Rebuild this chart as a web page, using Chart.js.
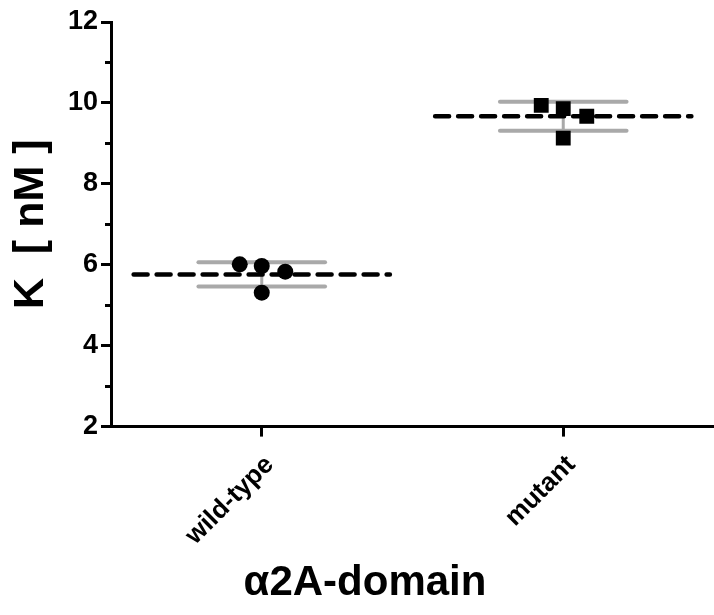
<!DOCTYPE html>
<html>
<head>
<meta charset="utf-8">
<script src="https://cdn.jsdelivr.net/npm/chart.js@4.4.1/dist/chart.umd.min.js"></script>
<style>
  html, body { margin: 0; padding: 0; background: #fff; }
</style>
</head>
<body>
<canvas id="grafico" width="714" height="615"></canvas>
<script>
// dados
const categories = ['wild-type', 'mutant'];
const wildType = [6.01, 5.97, 5.83, 5.31];
const mutant = [9.94, 9.86, 9.67, 9.13];
const means = [5.76, 9.67];
const sds = [0.30, 0.36];
const yMinorTicks = [3, 5, 7, 9, 11];
// espalhamento horizontal dos pontos dentro de cada coluna
const jitter = [-0.073, 0, 0.078, 0];

const fonte = "'Liberation Sans', Arial, sans-serif";
Chart.defaults.color = '#000';
Chart.defaults.font.family = fonte;

function pontos(valores, i) {
    return valores.map(function (v, k) { return { x: i + jitter[k], y: v }; });
}

var datasets = [
    {
        data: pontos(wildType, 0),
        pointStyle: 'circle', pointRadius: 8,
        backgroundColor: '#000', borderColor: '#000', borderWidth: 0
    },
    {
        data: pontos(mutant, 1),
        pointStyle: 'rect', pointRadius: 10.5,
        backgroundColor: '#000', borderColor: '#000', borderWidth: 0
    }
];

// linhas da média (tracejadas)
means.forEach(function (m, i) {
    datasets.push({
        data: [{ x: i - 0.425, y: m }, { x: i + 0.425, y: m }],
        showLine: true, pointRadius: 0,
        borderColor: '#000', borderWidth: 4.5,
        borderDash: [14, 9], borderCapStyle: 'round'
    });
});

// desvio padrão (cinza)
means.forEach(function (m, i) {
    [m + sds[i], m - sds[i]].forEach(function (v) {
        datasets.push({
            data: [{ x: i - 0.21, y: v }, { x: i + 0.21, y: v }],
            showLine: true, pointRadius: 0,
            borderColor: '#a9a9a9', borderWidth: 4, borderCapStyle: 'round'
        });
    });
    datasets.push({
        data: [{ x: i, y: m - sds[i] }, { x: i, y: m + sds[i] }],
        showLine: true, pointRadius: 0,
        borderColor: '#a9a9a9', borderWidth: 3
    });
});

// pequenos traços nos valores ímpares do eixo y
var tracosMenores = {
    id: 'tracosMenores',
    afterDraw: function (chart) {
        var ctx = chart.ctx;
        var y = chart.scales.y;
        var left = chart.chartArea.left;
        ctx.save();
        ctx.strokeStyle = '#000';
        ctx.lineWidth = 3;
        yMinorTicks.forEach(function (v) {
            var py = Math.round(y.getPixelForValue(v)) + 0.5;
            ctx.beginPath();
            ctx.moveTo(left - 6, py);
            ctx.lineTo(left, py);
            ctx.stroke();
        });
        ctx.restore();
    }
};

var ctx = document.getElementById('grafico').getContext('2d');
new Chart(ctx, {
    type: 'scatter',
    data: { datasets: datasets },
    plugins: [tracosMenores],
    options: {
        responsive: false,
        animation: false,
        layout: { autoPadding: false, padding: { top: 22, left: 16, right: 0, bottom: 0 } },
        plugins: {
            legend: { display: false },
            tooltip: { enabled: false },
            title: {
                display: true,
                position: 'bottom',
                text: 'α2A-domain',
                font: { size: 42, weight: 'bold', family: fonte, lineHeight: 1.2 },
                color: '#000',
                padding: { top: 0, bottom: 6 }
            }
        },
        scales: {
            x: {
                type: 'linear',
                min: -0.5,
                max: 1.5,
                afterBuildTicks: function (axis) {
                    axis.ticks = categories.map(function (c, i) { return { value: i }; });
                },
                afterFit: function (scale) {
                    scale.height = 132;
                    scale.paddingLeft = 0;
                    scale.paddingRight = 0;
                },
                ticks: {
                    callback: function (v) { return categories[v]; },
                    minRotation: 45,
                    maxRotation: 45,
                    padding: 13,
                    labelOffset: 8,
                    font: { size: 26, weight: 'bold' }
                },
                grid: {
                    drawOnChartArea: false,
                    drawTicks: true,
                    tickLength: 10,
                    tickWidth: 3,
                    tickColor: '#000'
                },
                border: { display: true, color: '#000', width: 3 }
            },
            y: {
                min: 2,
                max: 12,
                afterFit: function (scale) { scale.width = 95; },
                ticks: {
                    stepSize: 2,
                    padding: 3,
                    font: { size: 27, weight: 'bold' }
                },
                grid: {
                    drawOnChartArea: false,
                    drawTicks: true,
                    tickLength: 10,
                    tickWidth: 3,
                    tickColor: '#000'
                },
                border: { display: true, color: '#000', width: 3 },
                title: {
                    display: true,
                    text: 'K  [ nM ]',
                    padding: 0,
                    font: { size: 43, weight: 'bold', lineHeight: 0.7 }
                }
            }
        }
    }
});
</script>
</body>
</html>
